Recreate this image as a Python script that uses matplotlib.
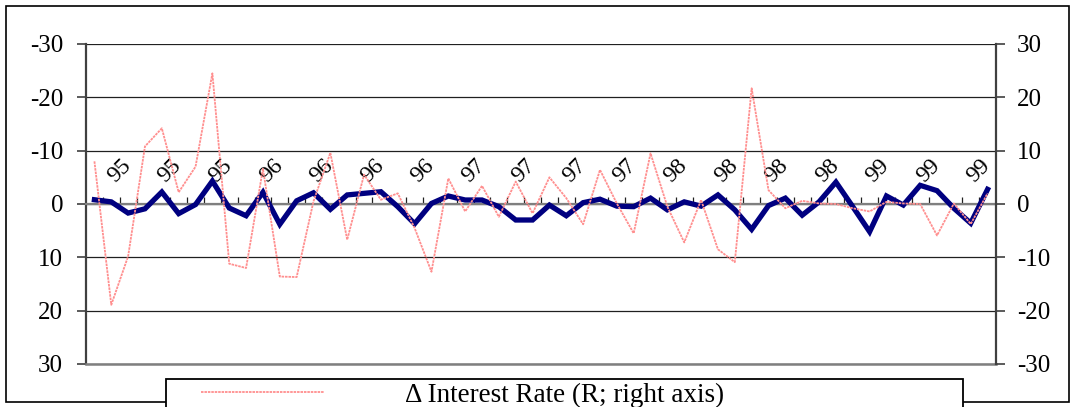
import numpy as np
import matplotlib
matplotlib.use("Agg")
import matplotlib.pyplot as plt
from matplotlib.lines import Line2D
from matplotlib.patches import Rectangle

plt.rcParams["font.family"] = ["Liberation Serif", "DejaVu Serif"]
plt.rcParams["axes.unicode_minus"] = False

# monthly observations, left axis (inverted) and right axis
left_series = [-0.8, -0.4, 1.7, 0.9, -2.25, 1.8, 0.1, -4.3, 0.75, 2.2,
               -2.2, 3.8, -0.6, -2.1, 1.0, -1.7, -2.0, -2.3, 0.5, 3.7,
               -0.1, -1.5, -0.75, -0.75, 0.5, 3.0, 3.0, 0.2, 2.2, -0.25,
               -0.9, 0.4, 0.5, -1.1, 1.1, -0.4, 0.4, -1.7, 1.1, 4.75,
               0.3, -1.1, 2.1, -0.4, -4.1, 0.5, 5.2, -1.5, 0.2, -3.5,
               -2.5, 0.8, 3.6, -2.75]
interest_rate = [8.0, -18.9, -9.8, 10.8, 14.2, 2.2, 7.0, 24.5, -11.2, -12.0,
                 6.6, -13.6, -13.7, 0.5, 9.6, -6.7, 5.5, 0.8, 2.0, -4.5,
                 -12.7, 4.8, -1.4, 3.4, -2.4, 4.2, -1.75, 5.0, 1.1, -3.8,
                 6.4, 0.1, -5.5, 9.5, -0.5, -7.2, 0.75, -8.5, -10.9, 21.7,
                 2.6, -0.8, 0.6, 0.1, 0.0, -0.8, -1.4, 0.4, 0.1, 0.0,
                 -5.9, 0.1, -3.75, 2.0]
year_labels = ["95", "95", "95", "96", "96", "96", "96", "97", "97", "97",
               "97", "98", "98", "98", "98", "99", "99", "99"]
label_first, label_step = 1, 3
y_ticks = [-30, -20, -10, 0, 10, 20, 30]

W, H = 1072, 407
fig = plt.figure(figsize=(W / 100, H / 100), dpi=100)
ax = fig.add_axes([86 / W, 1 - 364 / H, (996 - 86) / W, (364 - 44) / H])
ax2 = ax.twinx()

n = len(left_series)
x = np.arange(n)

pink = "#ff8f8f"
ax.plot(x, left_series, color="#000080", linewidth=3.8, solid_joinstyle="miter", zorder=3)
ax2.plot(x, interest_rate, color=pink, linewidth=1.3, linestyle=(0, (1.4, 0.5)), zorder=3)

ax.set_xlim(-0.5, n - 0.5)
ax.set_ylim(30, -30)
ax2.set_ylim(-30, 30)
ax.set_yticks(y_ticks)
ax2.set_yticks(y_ticks)

# gridlines
ax.yaxis.grid(True, color="#202020", linewidth=0.9)
ax.set_axisbelow(True)

# category axis sits on the zero line, labels above it
ax.spines["top"].set_position(("data", 0))
ax.spines["top"].set_color("#7f7f7f")
ax.spines["top"].set_linewidth(1.6)
ax.spines["bottom"].set_color("#7f7f7f")
ax.spines["bottom"].set_linewidth(1.8)
ax.spines["left"].set_color("#404040")
ax.spines["left"].set_linewidth(1.6)
ax.spines["right"].set_visible(False)
for s in ("top", "bottom", "left"):
    ax2.spines[s].set_visible(False)
ax2.spines["right"].set_color("#404040")
ax2.spines["right"].set_linewidth(1.6)

ax.xaxis.set_ticks_position("top")
ax.set_xticks(np.arange(label_first, n, label_step))
ax.set_xticklabels(year_labels)
ax.set_xticks(np.arange(0.5, n - 1, 1.0), minor=True)
ax.tick_params(axis="x", which="major", length=0, pad=18, labelsize=17)
ax.tick_params(axis="x", which="minor", length=5, width=0.9, direction="out", color="#202020")
for lbl in ax.get_xticklabels():
    lbl.set_rotation(45)
    lbl.set_rotation_mode("anchor")
    lbl.set_ha("left")
    lbl.set_va("center")

ax.tick_params(axis="y", length=6.5, width=1.2, pad=10, labelsize=18, color="#404040")
ax2.tick_params(axis="y", length=6.5, width=1.2, pad=8.5, labelsize=18, color="#404040")

# outer chart frame
fig.add_artist(Rectangle((6 / W, 1 - 402 / H), (1069 - 6) / W, (402 - 6) / H,
                         facecolor="none", edgecolor="black", lw=1.2))

# legend box (cut off at the bottom)
fig.add_artist(Rectangle((166 / W, -0.05), (963 - 166) / W, 0.05 + 1 - 379 / H,
                         facecolor="white", edgecolor="black", lw=1.3, zorder=5))
fig.add_artist(Line2D([201 / W, 324 / W], [1 - 392 / H, 1 - 392 / H], color=pink,
                      lw=1.3, linestyle=(0, (1.4, 0.5)), zorder=6))
fig.text(405 / W, 1 - 395 / H, "\u0394 Interest Rate (R; right axis)", fontsize=19.5,
         ha="left", va="center", zorder=6)

fig.savefig("out.png", dpi=100, facecolor="white")
